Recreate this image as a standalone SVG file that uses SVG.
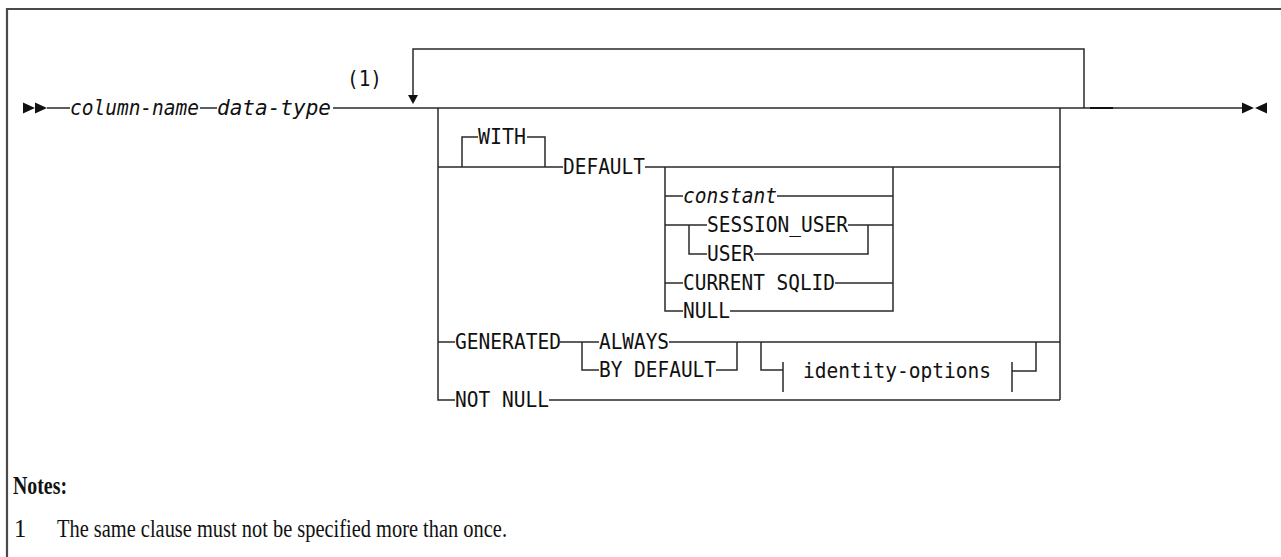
<svg xmlns="http://www.w3.org/2000/svg" width="1281" height="557" viewBox="0 0 1281 557">
<style>
.ln{fill:none;stroke:#2a2a2a;stroke-width:1.5}
.t{font-family:"DejaVu Sans Mono","Liberation Mono",monospace;font-size:21px;fill:#111}
.i{font-style:italic}
.ah{fill:#111}
.note{font-family:"Liberation Serif","DejaVu Serif",serif;font-size:24.5px;fill:#111}
</style>
<rect width="1281" height="557" fill="#fff"/>
<path d="M7,570 V9 H1290" fill="none" stroke="#4a4a4a" stroke-width="2.2"/>
<g id="connectors">
  <path class="ln" d="M47,108 H70 M200,108 H217 M333,108 H1242"/>
  <path d="M1090,108 H1113" stroke="#111" stroke-width="2"/>
  <path class="ln" d="M1084,108 V49 H413 V97"/>
  <polygon class="ah" points="408,95 418,95 413,104"/>
  <path class="ln" d="M438,108 V400 H455 M549,400 H1060 M1060,108 V400"/>
  <path class="ln" d="M438,167 H563 M645,167 H1060"/>
  <path class="ln" d="M462,167 V137 H478 M527,137 H545 V167"/>
  <path class="ln" d="M665,167 V311 H683 M730,311 H893 V167"/>
  <path class="ln" d="M665,196 H683 M777,196 H893"/>
  <path class="ln" d="M665,225 H707 M848,225 H893 M868,225 V254 H754 M707,254 H689 V225"/>
  <path class="ln" d="M665,283 H683 M835,283 H893"/>
  <path class="ln" d="M438,342 H455 M560,342 H599 M669,342 H1060"/>
  <path class="ln" d="M582,342 V370 H599 M716,370 H737 V342"/>
  <path class="ln" d="M761,342 V370 H783 M783,362 V392"/>
  <path class="ln" d="M1012,362 V392 M1012,371 H1036 V342"/>
</g>
<g id="start">
  <polygon class="ah" points="23,102.5 35,108 23,113.5"/>
  <polygon class="ah" points="35,102.5 47,108 35,113.5"/>
</g>
<g id="end">
  <polygon class="ah" points="1242,102.5 1254,108 1242,113.5"/>
  <polygon class="ah" points="1267,102.5 1255,108 1267,113.5"/>
</g>
<g id="column-name"><text class="t i" x="70" y="114.5" textLength="129" lengthAdjust="spacingAndGlyphs">column-name</text></g>
<g id="data-type"><text class="t i" x="217" y="114.5" textLength="114" lengthAdjust="spacingAndGlyphs">data-type</text></g>
<g id="note-ref"><text class="t" x="347" y="86" textLength="35" lengthAdjust="spacingAndGlyphs">(1)</text></g>
<g id="with"><text class="t" x="478" y="143.5" textLength="48" lengthAdjust="spacingAndGlyphs">WITH</text></g>
<g id="default"><text class="t" x="563" y="173.5" textLength="82" lengthAdjust="spacingAndGlyphs">DEFAULT</text></g>
<g id="constant"><text class="t i" x="683" y="202.5" textLength="94" lengthAdjust="spacingAndGlyphs">constant</text></g>
<g id="session-user"><text class="t" x="707" y="231.5" textLength="141" lengthAdjust="spacingAndGlyphs">SESSION_USER</text></g>
<g id="user"><text class="t" x="707" y="260.5" textLength="47" lengthAdjust="spacingAndGlyphs">USER</text></g>
<g id="current-sqlid"><text class="t" x="683" y="289.5" textLength="152" lengthAdjust="spacingAndGlyphs">CURRENT SQLID</text></g>
<g id="null"><text class="t" x="683" y="317.5" textLength="47" lengthAdjust="spacingAndGlyphs">NULL</text></g>
<g id="generated"><text class="t" x="455" y="348.5" textLength="106" lengthAdjust="spacingAndGlyphs">GENERATED</text></g>
<g id="always"><text class="t" x="599" y="348.5" textLength="70" lengthAdjust="spacingAndGlyphs">ALWAYS</text></g>
<g id="by-default"><text class="t" x="599" y="376.5" textLength="117" lengthAdjust="spacingAndGlyphs">BY DEFAULT</text></g>
<g id="identity-options"><text class="t" x="803" y="377.5" textLength="188" lengthAdjust="spacingAndGlyphs">identity-options</text></g>
<g id="not-null"><text class="t" x="455" y="406.5" textLength="94" lengthAdjust="spacingAndGlyphs">NOT NULL</text></g>
<g id="notes">
  <text class="note" x="13" y="494" font-weight="bold" textLength="54" lengthAdjust="spacingAndGlyphs">Notes:</text>
  <text class="note" x="14" y="537">1</text>
  <text class="note" x="57" y="537" textLength="450" lengthAdjust="spacingAndGlyphs">The same clause must not be specified more than once.</text>
</g>
</svg>
